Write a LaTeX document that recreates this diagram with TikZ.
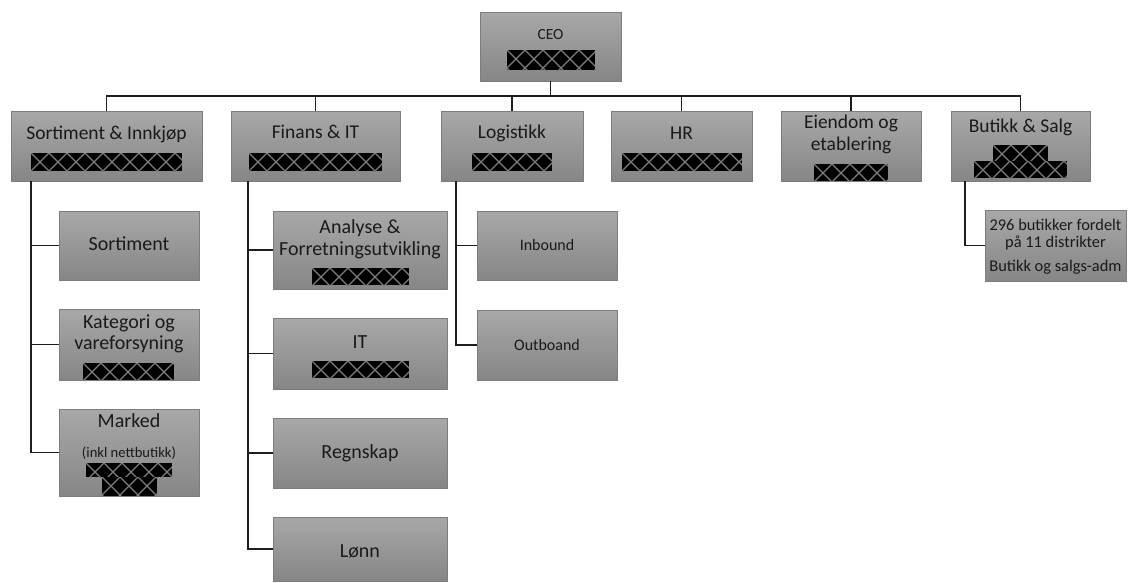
\documentclass[tikz,border=0pt]{standalone}
\usepackage{fontspec}
\setmainfont{Carlito}
\definecolor{boxtop}{RGB}{168,168,168}
\definecolor{boxbot}{RGB}{134,134,134}
\definecolor{boxborder}{RGB}{125,125,125}
\definecolor{txtc}{RGB}{26,26,26}
\definecolor{linec}{RGB}{30,30,30}
\definecolor{hatch}{RGB}{125,125,125}
\newcommand{\fs}[1]{\fontsize{#1}{#1}\selectfont}
\newcommand{\redact}[4]{%
  \begin{scope}
    \clip (#1,#2) rectangle (#3,#4);
    \fill[black] (#1,#2) rectangle (#3,#4);
    \foreach \k in {-2,...,10} {
      \draw[hatch, line width=1.3pt] ({#1+\k*18},#2) -- ++(40,40);
      \draw[hatch, line width=1.3pt] ({#1+\k*18},#2) -- ++(-40,40);
    }
  \end{scope}}
\tikzset{
  box/.style={rectangle, draw=boxborder, line width=0.8pt, top color=boxtop, bottom color=boxbot, inner sep=0pt, outer sep=0pt},
  txt/.style={inner sep=0pt, text=txtc, text height=0.62em, text depth=0pt, anchor=center, yshift=-2pt},
  conn/.style={draw=linec, line width=1.4pt}
}
\begin{document}
\begin{tikzpicture}[x=1pt,y=-1pt]
\useasboundingbox (0,0) rectangle (1129,582);
% boxes
\node[box, minimum width=141pt, minimum height=69pt] (ceo) at (550.5,46.5) {};
\node[box, minimum width=191pt, minimum height=70pt] (sort) at (106.5,146) {};
\node[box, minimum width=169pt, minimum height=70pt] (fin) at (315.5,146) {};
\node[box, minimum width=142pt, minimum height=70pt] (log) at (512,146) {};
\node[box, minimum width=141pt, minimum height=70pt] (hr) at (681.5,146) {};
\node[box, minimum width=140pt, minimum height=70pt] (eien) at (851,146) {};
\node[box, minimum width=139pt, minimum height=70pt] (bs) at (1020.5,146) {};
\node[box, minimum width=140pt, minimum height=69pt] (s1) at (129,245.5) {};
\node[box, minimum width=140pt, minimum height=71pt] (s2) at (129,344.5) {};
\node[box, minimum width=140pt, minimum height=87pt] (s3) at (129,452.5) {};
\node[box, minimum width=174pt, minimum height=78pt] (f1) at (360,250) {};
\node[box, minimum width=174pt, minimum height=71pt] (f2) at (360,353.5) {};
\node[box, minimum width=174pt, minimum height=70pt] (f3) at (360,453) {};
\node[box, minimum width=174pt, minimum height=64pt] (f4) at (360,549) {};
\node[box, minimum width=140pt, minimum height=69pt] (l1) at (547,245.5) {};
\node[box, minimum width=140pt, minimum height=70pt] (l2) at (547,345) {};
\node[box, minimum width=141pt, minimum height=71pt] (b1) at (1055.5,245.5) {};
% connectors
\coordinate (bus) at (550.5,96);
\draw[conn] (ceo.south) -- (bus);
\draw[conn] (sort.north) |- (bus) -| (bs.north);
\draw[conn] (fin.north) -- (fin.north |- bus);
\draw[conn] (log.north) -- (log.north |- bus);
\draw[conn] (hr.north) -- (hr.north |- bus);
\draw[conn] (eien.north) -- (eien.north |- bus);
\coordinate (sortstem) at (31,181);
\coordinate (finstem) at (248,181);
\coordinate (logstem) at (456,181);
\coordinate (bsstem) at (965,181);
\draw[conn] (sortstem) |- (s1.west);
\draw[conn] (sortstem) |- (s2.west);
\draw[conn] (sortstem) |- (s3.west);
\draw[conn] (finstem) |- (f1.west);
\draw[conn] (finstem) |- (f2.west);
\draw[conn] (finstem) |- (f3.west);
\draw[conn] (finstem) |- (f4.west);
\draw[conn] (logstem) |- (l1.west);
\draw[conn] (logstem) |- (l2.west);
\draw[conn] (bsstem) |- (b1.west);
% texts
\node[txt, font=\fs{15.5}] (tceo) at (550.5,34) {CEO};
\node[txt, font=\fs{19.5}] (tsort) at (106.5,134) {Sortiment \& Innkjøp};
\node[txt, font=\fs{19.5}] (tfin) at (315.5,133) {Finans \& IT};
\node[txt, font=\fs{19.5}] (tlog) at (512,133) {Logistikk};
\node[txt, font=\fs{19.5}] (thr) at (681.5,134) {HR};
\node[txt, font=\fs{19.5}] (te1) at (851,123) {Eiendom og};
\node[txt, font=\fs{19.5}] (te2) at (851,145) {etablering};
\node[txt, font=\fs{19.5}] (tbs) at (1020.5,127) {Butikk \& Salg};
\node[txt, font=\fs{20}] (ts1) at (129,245) {Sortiment};
\node[txt, font=\fs{20}] (ts2a) at (129,323) {Kategori og};
\node[txt, font=\fs{20}] (ts2b) at (129,344) {vareforsyning};
\node[txt, font=\fs{20}] (ts3a) at (129,422) {Marked};
\node[txt, font=\fs{14.6}] (ts3b) at (129,452) {(inkl nettbutikk)};
\node[txt, font=\fs{20}] (tf1a) at (360,228) {Analyse \&};
\node[txt, font=\fs{20}] (tf1b) at (360,250) {Forretningsutvikling};
\node[txt, font=\fs{20}] (tf2) at (360,343) {IT};
\node[txt, font=\fs{20}] (tf3) at (360,453) {Regnskap};
\node[txt, font=\fs{20}] (tf4) at (360,552) {Lønn};
\node[txt, font=\fs{16}] (tl1) at (547,245) {Inbound};
\node[txt, font=\fs{16}] (tl2) at (547,345) {Outboand};
\node[txt, font=\fs{16.4}] (tb1a) at (1055.5,225) {296 butikker fordelt};
\node[txt, font=\fs{16.4}] (tb1b) at (1055.5,242) {på 11 distrikter};
\node[txt, font=\fs{16.4}] (tb1c) at (1055.5,266) {Butikk og salgs-adm};
% redactions
\redact{507}{50}{595}{70}
\redact{31}{153}{182}{171}
\redact{249}{153}{382}{171}
\redact{472}{153}{552}{171}
\redact{622}{153}{742}{171}
\redact{814}{164}{888}{181}
\redact{993}{145}{1048}{161}
\redact{974}{161}{1067}{178}
\redact{83}{363}{174}{380}
\redact{86}{463}{172}{477}
\redact{102}{477}{157}{496}
\redact{312}{268}{409}{285}
\redact{312}{361}{409}{378}
\end{tikzpicture}
\end{document}
